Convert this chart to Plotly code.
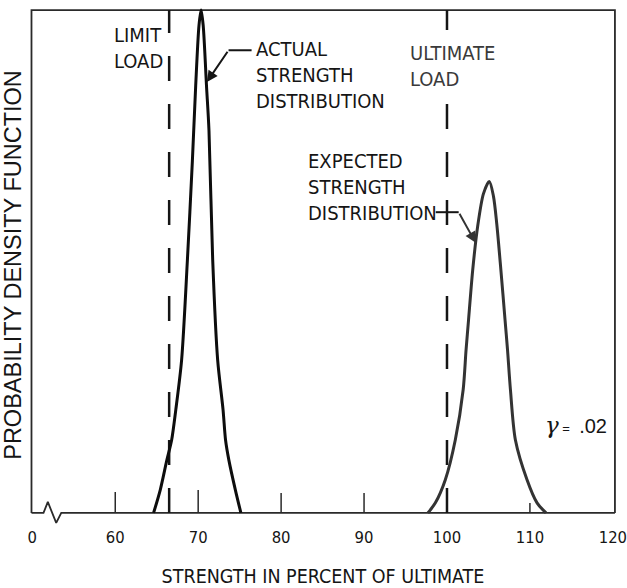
import plotly.graph_objects as go

# ---- data: strength in percent of ultimate vs. relative probability density ----
actual_x = [64.62, 65.43, 66.22, 66.8, 67.3, 68.0, 68.7, 69.3, 69.7, 70.1, 70.35,
            70.6, 71.0, 71.3, 71.75, 72.35, 73.0, 73.3, 73.7, 74.48, 75.15]
actual_y = [0.0, 0.046, 0.105, 0.145, 0.205, 0.304, 0.503, 0.70, 0.85, 0.97, 1.0,
            0.97, 0.85, 0.761, 0.503, 0.304, 0.205, 0.145, 0.105, 0.046, 0.0]

expected_x = [97.7, 98.6, 99.8, 101.0, 101.95, 102.3, 102.6, 103.1, 103.7,
              104.4, 105.1, 105.6, 106.0, 106.5, 107.0, 107.3, 107.65, 108.25,
              109.65, 110.86, 111.94]
expected_y = [0.0, 0.02, 0.066, 0.145, 0.245, 0.324, 0.384, 0.483, 0.57,
              0.635, 0.659, 0.63, 0.575, 0.483, 0.384, 0.324, 0.245, 0.145,
              0.066, 0.02, 0.0]

limit_load = 66.5
ultimate_load = 100.0

tick_vals = [50, 60, 70, 80, 90, 100, 110, 120]
tick_text = ["0", "60", "70", "80", "90", "100", "110", "120"]
inner_ticks = [60, 70, 80, 90, 100, 110]

# ---- layout constants ----
W, H = 627, 588
M = dict(l=29, r=10, t=5, b=63)
X_RANGE = [49.6, 120.5]
Y_RANGE = [-0.024, 1.01]
px_per_y = (H - M["t"] - M["b"]) / (Y_RANGE[1] - Y_RANGE[0])


def dy(px):
    return px / px_per_y


INK = "#151515"
NARROW = "DejaVu Sans Condensed, Liberation Sans Narrow, Arial Narrow, sans-serif"
FRAME_L, FRAME_R = 49.9, 120.25

fig = go.Figure()

# frame: left, top and right sides
fig.add_trace(go.Scatter(x=[FRAME_L, FRAME_L, FRAME_R, FRAME_R], y=[0, 1, 1, 0],
                         mode="lines", line=dict(color="#2a2a2a", width=1.8),
                         hoverinfo="skip", showlegend=False))

# baseline with axis-break zigzag near the origin
bx = 52.4
brk_dx = [-1.05, -0.53, 0.48, 1.09]
brk_dy = [0.0, dy(11), -dy(10), 0.0]
fig.add_trace(go.Scatter(x=[FRAME_L] + [bx + d for d in brk_dx] + [FRAME_R],
                         y=[0] + brk_dy + [0],
                         mode="lines", line=dict(color="#2a2a2a", width=1.8),
                         hoverinfo="skip", showlegend=False))

# inward tick marks along the baseline
tick_len_px = [21, 23, 20, 20, 15, 10]
tx, ty = [], []
for v, L in zip(inner_ticks, tick_len_px):
    tx += [v, v, None]
    ty += [0, dy(L), None]
fig.add_trace(go.Scatter(x=tx, y=ty, mode="lines",
                         line=dict(color="#2a2a2a", width=1.5),
                         hoverinfo="skip", showlegend=False))

# load lines
dash = "25px,23px"
fig.add_trace(go.Scatter(x=[limit_load, limit_load], y=[0, 1], mode="lines",
                         line=dict(color=INK, width=2.5, dash=dash),
                         hoverinfo="skip", showlegend=False))
fig.add_trace(go.Scatter(x=[ultimate_load, ultimate_load], y=[0, 1 - dy(90)], mode="lines",
                         line=dict(color=INK, width=2.5, dash=dash),
                         hoverinfo="skip", showlegend=False))
fig.add_trace(go.Scatter(x=[ultimate_load, ultimate_load], y=[1, 1 - dy(20)], mode="lines",
                         line=dict(color=INK, width=2.5),
                         hoverinfo="skip", showlegend=False))

# strength distributions
fig.add_trace(go.Scatter(x=actual_x, y=actual_y, mode="lines",
                         line=dict(color="#0d0d0d", width=3, shape="spline", smoothing=0.8),
                         name="Actual strength distribution", showlegend=False))
fig.add_trace(go.Scatter(x=expected_x, y=expected_y, mode="lines",
                         line=dict(color="#333333", width=3, shape="spline", smoothing=0.8),
                         name="Expected strength distribution", showlegend=False))

# leader lines for the curve labels
act_tip = (71.05, 0.857)
act_knee = (73.66, 0.920)
act_start = (76.44, 0.920)
exp_tip = (103.46, 0.537)
exp_knee = (101.41, 0.598)
exp_start = (98.64, 0.598)
for start, knee in ((act_start, act_knee), (exp_start, exp_knee)):
    fig.add_trace(go.Scatter(x=[start[0], knee[0]], y=[start[1], knee[1]], mode="lines",
                             line=dict(color=INK, width=2), hoverinfo="skip", showlegend=False))

annotations = []
for tip, knee, col in ((act_tip, act_knee, INK), (exp_tip, exp_knee, "#333333")):
    annotations.append(dict(x=tip[0], y=tip[1], ax=knee[0], ay=knee[1],
                            xref="x", yref="y", axref="x", ayref="y",
                            text="", showarrow=True, arrowhead=2, arrowsize=1.1,
                            arrowwidth=2, arrowcolor=col, standoff=0))


def label(text, x, y, color=INK, size=20):
    annotations.append(dict(x=x, y=y, xref="x", yref="y", text=text, showarrow=False,
                            xanchor="left", yanchor="middle", align="left",
                            font=dict(family=NARROW, size=size, color=color)))


label("LIMIT<br>LOAD", 59.55, 0.925)
label("ACTUAL<br>STRENGTH<br>DISTRIBUTION", 76.7, 0.870)
label("ULTIMATE<br>LOAD", 95.25, 0.888, color="#3a3a3a")
label("EXPECTED<br>STRENGTH<br>DISTRIBUTION", 82.95, 0.649)
annotations.append(dict(x=111.6, y=0.175, xref="x", yref="y", showarrow=False,
                        xanchor="left", yanchor="middle",
                        text="<span style='font-family:DejaVu Serif;font-size:23px'><i>γ</i></span>"
                             "<span style='font-size:13px'> = </span> .02",
                        font=dict(family="Liberation Sans, Arial, sans-serif", size=20, color=INK)))

fig.update_layout(
    width=W, height=H, margin=M,
    paper_bgcolor="white", plot_bgcolor="white",
    annotations=annotations,
    xaxis=dict(range=X_RANGE, tickvals=tick_vals, ticktext=tick_text,
               automargin=False,
               showgrid=False, zeroline=False, showline=False, ticks="",
               ticklabeloverflow="allow",
               tickfont=dict(family=NARROW, size=16.5, color=INK),
               title=dict(text="STRENGTH IN PERCENT OF ULTIMATE", standoff=26,
                          font=dict(family=NARROW, size=19.5, color=INK))),
    yaxis=dict(range=Y_RANGE, showticklabels=False, showgrid=False, zeroline=False,
               automargin=False, showline=False, ticks="",
               title=dict(text="PROBABILITY DENSITY FUNCTION", standoff=6,
                          font=dict(family="Liberation Sans, Arial, sans-serif",
                                    size=23.5, color=INK))),
)

fig.write_html("out.html")
